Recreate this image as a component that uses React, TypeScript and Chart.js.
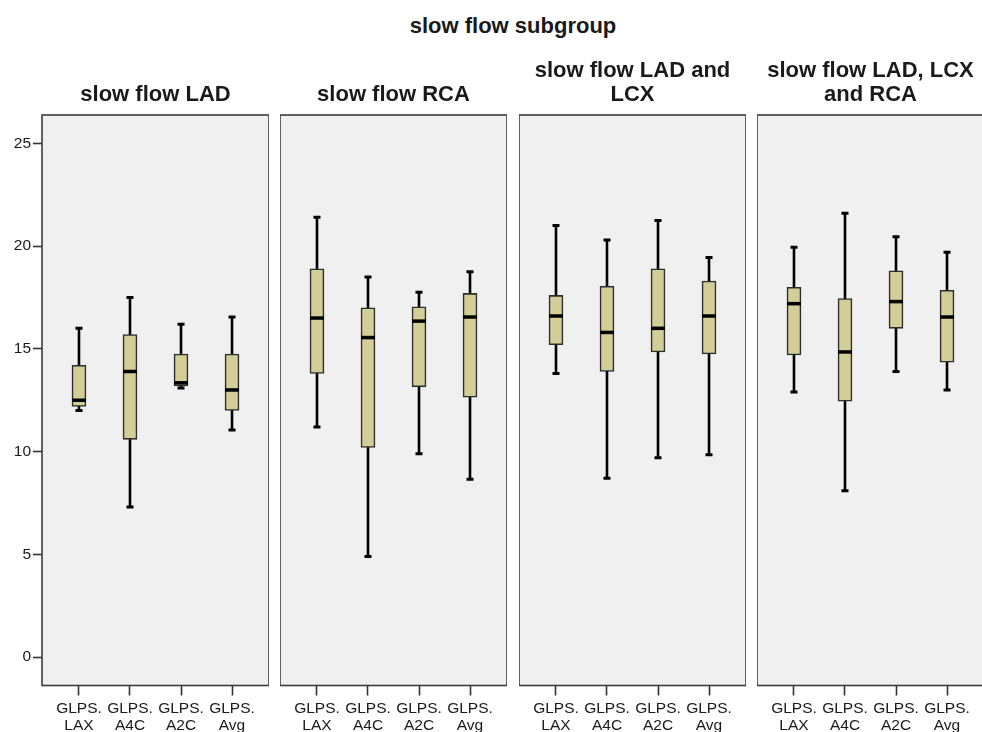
import React, { useEffect, useRef } from 'react';
import { Chart, registerables } from 'chart.js';

Chart.register(...registerables);

const mainTitle = 'slow flow subgroup';
const panelTitles: string[][] = [
  ['', 'slow flow LAD'],
  ['', 'slow flow RCA'],
  ['slow flow LAD and', 'LCX'],
  ['slow flow LAD, LCX', 'and RCA'],
];
const categories: string[][] = [
  ['GLPS.', 'LAX'],
  ['GLPS.', 'A4C'],
  ['GLPS.', 'A2C'],
  ['GLPS.', 'Avg'],
];
const yTicks = [0, 5, 10, 15, 20, 25];

// one row per panel, one value per category (LAX, A4C, A2C, Avg)
const whiskerLow = [
  [12.0, 7.3, 13.1, 11.05],
  [11.2, 4.9, 9.9, 8.65],
  [13.8, 8.7, 9.7, 9.85],
  [12.9, 8.1, 13.9, 13.0],
];
const quartile1 = [
  [12.2, 10.6, 13.2, 12.0],
  [13.8, 10.2, 13.15, 12.65],
  [15.2, 13.9, 14.85, 14.75],
  [14.7, 12.45, 16.0, 14.35],
];
const medians = [
  [12.5, 13.9, 13.35, 13.0],
  [16.5, 15.55, 16.35, 16.55],
  [16.6, 15.8, 16.0, 16.6],
  [17.2, 14.85, 17.3, 16.55],
];
const quartile3 = [
  [14.2, 15.7, 14.75, 14.75],
  [18.9, 17.0, 17.05, 17.7],
  [17.6, 18.05, 18.9, 18.3],
  [18.0, 17.45, 18.8, 17.85],
];
const whiskerHigh = [
  [16.0, 17.5, 16.2, 16.55],
  [21.4, 18.5, 17.75, 18.75],
  [21.0, 20.3, 21.25, 19.45],
  [19.95, 21.6, 20.45, 19.7],
];

const BOX_FILL = '#d3ce97';
const BOX_EDGE = '#2e2e2e';
const PANEL_BG = '#f0f0f0';
const FRAME = '#3c3c3c';
const TEXT = '#1a1a1a';
const BOX_W = 14;

const tickFont = { family: '"Liberation Sans", Arial, sans-serif', size: 15.5, lineHeight: 17 / 15.5 };
const titleFont = { family: '"Liberation Sans", Arial, sans-serif', size: 22, weight: 'bold' as const, lineHeight: 24 / 22 };

function makePlugin(p: number) {
  return {
    id: 'boxplot' + p,
    beforeDraw(chart: any) {
      const { ctx, chartArea: a } = chart;
      ctx.save();
      ctx.fillStyle = PANEL_BG;
      ctx.fillRect(a.left, a.top, a.right - a.left, a.bottom - a.top);
      ctx.restore();
    },
    beforeDatasetsDraw(chart: any) {
      const { ctx } = chart;
      const xs = chart.scales.x;
      const ys = chart.scales.y;
      ctx.save();
      ctx.strokeStyle = '#000';
      categories.forEach((_, i) => {
        const x = xs.getPixelForValue(i);
        const yLo = ys.getPixelForValue(whiskerLow[p][i]);
        const yHi = ys.getPixelForValue(whiskerHigh[p][i]);
        ctx.lineWidth = 2.6;
        ctx.beginPath();
        ctx.moveTo(x, yLo);
        ctx.lineTo(x, yHi);
        ctx.stroke();
        ctx.lineWidth = 3;
        ctx.beginPath();
        ctx.moveTo(x - 3.5, yLo);
        ctx.lineTo(x + 3.5, yLo);
        ctx.moveTo(x - 3.5, yHi);
        ctx.lineTo(x + 3.5, yHi);
        ctx.stroke();
      });
      ctx.restore();
    },
    afterDatasetsDraw(chart: any) {
      const { ctx } = chart;
      const xs = chart.scales.x;
      const ys = chart.scales.y;
      ctx.save();
      ctx.strokeStyle = '#000';
      ctx.lineWidth = 3.5;
      categories.forEach((_, i) => {
        const x = xs.getPixelForValue(i);
        const y = ys.getPixelForValue(medians[p][i]);
        ctx.beginPath();
        ctx.moveTo(x - BOX_W / 2, y);
        ctx.lineTo(x + BOX_W / 2, y);
        ctx.stroke();
      });
      ctx.restore();
    },
    afterDraw(chart: any) {
      const { ctx, chartArea: a } = chart;
      ctx.save();
      ctx.strokeStyle = FRAME;
      ctx.lineWidth = 1.6;
      ctx.strokeRect(a.left, a.top, a.right - a.left, a.bottom - a.top);
      ctx.restore();
    },
  };
}

function Panel({ p, left, width, showY }: { p: number; left: number; width: number; showY: boolean }) {
  const ref = useRef<HTMLCanvasElement | null>(null);
  useEffect(() => {
    if (!ref.current) return;
    const chart = new Chart(ref.current, {
      type: 'bar',
      data: {
        datasets: [
          {
            data: categories.map((_, i) => ({ x: i, y: [quartile1[p][i], quartile3[p][i]] })) as any,
            backgroundColor: BOX_FILL,
            borderColor: BOX_EDGE,
            borderWidth: 1.6,
            borderSkipped: false,
            barThickness: BOX_W,
          },
        ],
      },
      options: {
        animation: false,
        responsive: false,
        events: [],
        layout: { padding: 0 },
        plugins: {
          legend: { display: false },
          tooltip: { enabled: false },
          title: {
            display: true,
            fullSize: false,
            text: panelTitles[p],
            color: TEXT,
            font: titleFont,
            padding: { top: 59.4, bottom: 7.6 },
          },
        },
        scales: {
          x: {
            type: 'linear',
            min: -0.725,
            max: 3.725,
            offset: false,
            afterBuildTicks: (s: any) => {
              s.ticks = categories.map((_, i) => ({ value: i }));
            },
            afterFit: (s: any) => {
              s.height = 46.5;
            },
            grid: {
              offset: false,
              drawOnChartArea: false,
              drawTicks: true,
              tickLength: 10,
              tickColor: '#333',
              tickWidth: 1.6,
            },
            border: { display: false },
            ticks: {
              autoSkip: false,
              maxRotation: 0,
              padding: 4.6,
              color: TEXT,
              font: tickFont,
              callback: (v: any) => categories[Math.round(Number(v))],
            },
          },
          y: {
            type: 'linear',
            display: showY,
            min: -1.38,
            max: 26.38,
            afterBuildTicks: (s: any) => {
              s.ticks = yTicks.map((v) => ({ value: v }));
            },
            afterFit: (s: any) => {
              s.width = showY ? 42 : 0;
            },
            grid: {
              drawOnChartArea: false,
              drawTicks: true,
              tickLength: 9,
              tickColor: '#333',
              tickWidth: 1.6,
            },
            border: { display: false },
            ticks: {
              padding: 2,
              color: TEXT,
              font: tickFont,
            },
          },
        },
      },
      plugins: [makePlugin(p)],
    } as any);
    return () => chart.destroy();
  }, [p, showY]);
  return (
    <canvas
      ref={ref}
      width={width}
      height={732}
      style={{ position: 'absolute', left, top: 0, width, height: 732 }}
    />
  );
}

export default function App() {
  return (
    <div
      style={{
        position: 'absolute',
        left: 0,
        top: 0,
        width: 982,
        height: 732,
        overflow: 'hidden',
        background: '#fff',
      }}
    >
      <div
        style={{
          position: 'absolute',
          left: 0,
          width: 1026,
          top: 14.4,
          textAlign: 'center',
          fontFamily: '"Liberation Sans", Arial, sans-serif',
          fontWeight: 'bold',
          fontSize: 22,
          lineHeight: '24px',
          color: TEXT,
        }}
      >
        {mainTitle}
      </div>
      <Panel p={0} left={0} width={269} showY={true} />
      <Panel p={1} left={280} width={227} showY={false} />
      <Panel p={2} left={519} width={227} showY={false} />
      <Panel p={3} left={757} width={227} showY={false} />
    </div>
  );
}
